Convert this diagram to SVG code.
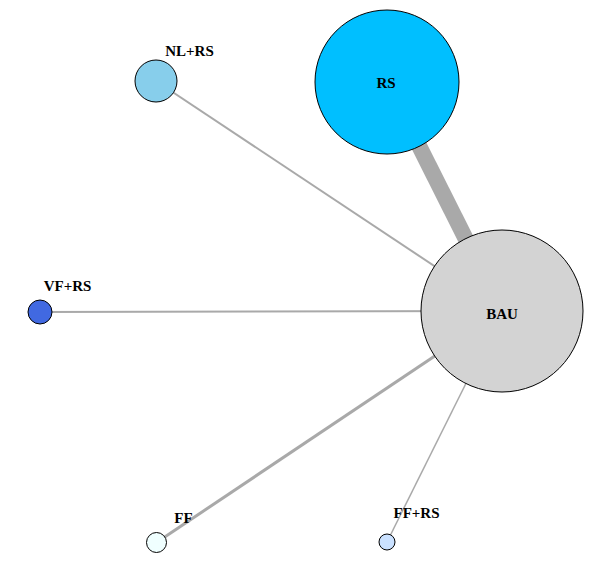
<svg xmlns="http://www.w3.org/2000/svg" width="606" height="579" viewBox="0 0 606 579">
<style>
.e{stroke:#A9A9A9;fill:none}
.n{stroke:#000;stroke-width:1}
.t{font-weight:bold;font-size:15px;text-anchor:middle;fill:#000}
</style>
<rect width="606" height="579" fill="#fff"/>
<g id="edges">
<line class="e" x1="387" y1="82" x2="502" y2="311" stroke-width="16"/>
<line class="e" x1="156" y1="81" x2="502" y2="311" stroke-width="2"/>
<line class="e" x1="40" y1="312" x2="502" y2="311" stroke-width="2"/>
<line class="e" x1="156.5" y1="542.5" x2="502" y2="311" stroke-width="3"/>
<line class="e" x1="387" y1="542" x2="502" y2="311" stroke-width="1.5"/>
</g>
<g font-family="'Liberation Serif', serif">
<g id="node-RS"><circle class="n" cx="387" cy="82" r="72" fill="#00BFFF"/><text class="t" x="386" y="88">RS</text></g>
<g id="node-BAU"><circle class="n" cx="502" cy="311" r="81" fill="#D3D3D3"/><text class="t" x="502" y="319">BAU</text></g>
<g id="node-NLRS"><circle class="n" cx="156" cy="81" r="21" fill="#87CEEB"/><text class="t" x="189.5" y="56">NL+RS</text></g>
<g id="node-VFRS"><circle class="n" cx="40" cy="312" r="12" fill="#4169E1"/><text class="t" x="67.5" y="291">VF+RS</text></g>
<g id="node-FF"><circle class="n" cx="156.5" cy="542.5" r="10" fill="#F0FFFF"/><text class="t" x="183.5" y="523">FF</text></g>
<g id="node-FFRS"><circle class="n" cx="387" cy="542" r="8" fill="#CAE1FF"/><text class="t" x="416.5" y="518">FF+RS</text></g>
</g>
</svg>
